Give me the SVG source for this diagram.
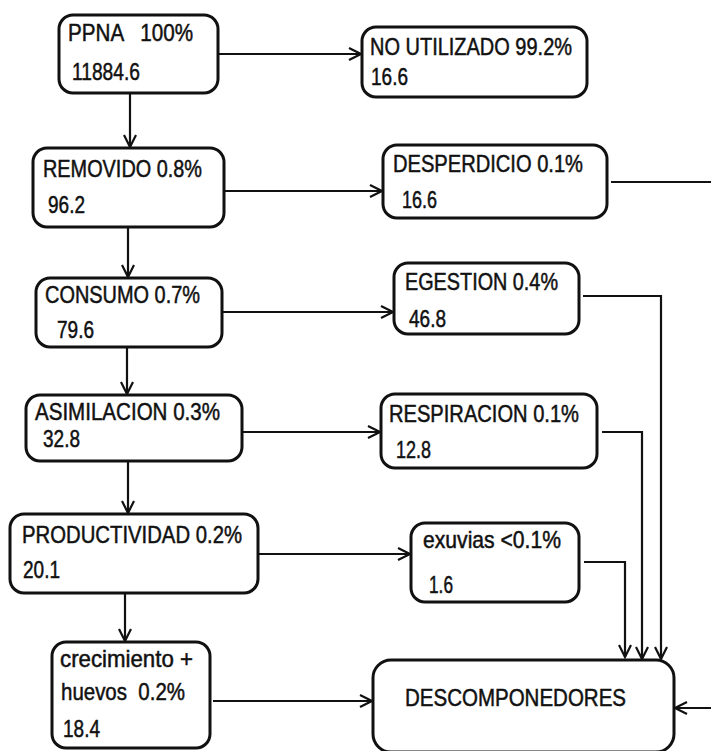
<svg xmlns="http://www.w3.org/2000/svg" width="711" height="751" viewBox="0 0 711 751">
  <style>
    .box { fill: #ffffff; stroke: #111111; stroke-width: 3; }
    .lbl { font-family: "Liberation Sans", "DejaVu Sans", sans-serif; font-size: 24px; fill: #111111; stroke: #111111; stroke-width: 0.5; white-space: pre; }
    .wire { fill: none; stroke: #111111; stroke-width: 2.2; }
    .arrow { marker-end: url(#chev); }
  </style>
  <defs>
    <marker id="chev" viewBox="0 0 13 12" refX="12" refY="6" markerWidth="13" markerHeight="12" markerUnits="userSpaceOnUse" orient="auto" overflow="visible">
      <path d="M0,0 L12,6 L0,12" fill="none" stroke="#111111" stroke-width="2.2"/>
    </marker>
  </defs>
  <rect width="711" height="751" fill="#ffffff"/>

  <!-- flows between compartments -->
  <g id="connectors">
    <path class="wire arrow" d="M218,54 H361"/>
    <path class="wire arrow" d="M130,93 V147"/>
    <path class="wire arrow" d="M224,191 H382"/>
    <path class="wire arrow" d="M128,227 V277"/>
    <path class="wire arrow" d="M222,312 H393"/>
    <path class="wire arrow" d="M127,347 V394"/>
    <path class="wire arrow" d="M242,432 H380"/>
    <path class="wire arrow" d="M128,461 V513"/>
    <path class="wire arrow" d="M258,554 H410"/>
    <path class="wire arrow" d="M125,593 V641"/>
    <path class="wire arrow" d="M213,701 H372"/>
    <path class="wire arrow" d="M611,182 H713 V708 H675"/>
    <path class="wire arrow" d="M583,296 H661 V659"/>
    <path class="wire arrow" d="M602,432 H642 V659"/>
    <path class="wire arrow" d="M584,562 H625 V657"/>
  </g>

  <g id="ppna">
    <rect class="box" x="59" y="15" width="159" height="78" rx="14"/>
    <text class="lbl" x="68" y="41" textLength="125" lengthAdjust="spacingAndGlyphs">PPNA   100%</text>
    <text class="lbl" x="72" y="80" textLength="68" lengthAdjust="spacingAndGlyphs">11884.6</text>
  </g>

  <g id="no-utilizado">
    <rect class="box" x="362" y="27" width="225" height="70" rx="14"/>
    <text class="lbl" x="370" y="55" textLength="202" lengthAdjust="spacingAndGlyphs">NO UTILIZADO 99.2%</text>
    <text class="lbl" x="371" y="85" textLength="37" lengthAdjust="spacingAndGlyphs">16.6</text>
  </g>

  <g id="removido">
    <rect class="box" x="33" y="148" width="191" height="79" rx="14"/>
    <text class="lbl" x="43" y="177" textLength="159" lengthAdjust="spacingAndGlyphs">REMOVIDO 0.8%</text>
    <text class="lbl" x="48" y="213" textLength="37" lengthAdjust="spacingAndGlyphs">96.2</text>
  </g>

  <g id="desperdicio">
    <rect class="box" x="383" y="145" width="224" height="73" rx="14"/>
    <text class="lbl" x="393" y="172" textLength="190" lengthAdjust="spacingAndGlyphs">DESPERDICIO 0.1%</text>
    <text class="lbl" x="402" y="208" textLength="35" lengthAdjust="spacingAndGlyphs">16.6</text>
  </g>

  <g id="consumo">
    <rect class="box" x="36" y="278" width="186" height="69" rx="14"/>
    <text class="lbl" x="45" y="303" textLength="155" lengthAdjust="spacingAndGlyphs">CONSUMO 0.7%</text>
    <text class="lbl" x="57" y="338" textLength="37" lengthAdjust="spacingAndGlyphs">79.6</text>
  </g>

  <g id="egestion">
    <rect class="box" x="394" y="263" width="185" height="71" rx="14"/>
    <text class="lbl" x="405" y="290" textLength="153" lengthAdjust="spacingAndGlyphs">EGESTION 0.4%</text>
    <text class="lbl" x="409" y="327" textLength="37" lengthAdjust="spacingAndGlyphs">46.8</text>
  </g>

  <g id="asimilacion">
    <rect class="box" x="26" y="395" width="216" height="66" rx="14"/>
    <text class="lbl" x="35" y="420" textLength="185" lengthAdjust="spacingAndGlyphs">ASIMILACION 0.3%</text>
    <text class="lbl" x="43" y="447" textLength="37" lengthAdjust="spacingAndGlyphs">32.8</text>
  </g>

  <g id="respiracion">
    <rect class="box" x="381" y="394" width="216" height="74" rx="14"/>
    <text class="lbl" x="389" y="422" textLength="190" lengthAdjust="spacingAndGlyphs">RESPIRACION 0.1%</text>
    <text class="lbl" x="396" y="458" textLength="35" lengthAdjust="spacingAndGlyphs">12.8</text>
  </g>

  <g id="productividad">
    <rect class="box" x="10" y="514" width="248" height="79" rx="14"/>
    <text class="lbl" x="22" y="543" textLength="220" lengthAdjust="spacingAndGlyphs">PRODUCTIVIDAD 0.2%</text>
    <text class="lbl" x="23" y="578" textLength="37" lengthAdjust="spacingAndGlyphs">20.1</text>
  </g>

  <g id="exuvias">
    <rect class="box" x="411" y="523" width="168" height="79" rx="14"/>
    <text class="lbl" x="423" y="548" textLength="138" lengthAdjust="spacingAndGlyphs">exuvias &lt;0.1%</text>
    <text class="lbl" x="429" y="593" textLength="24" lengthAdjust="spacingAndGlyphs">1.6</text>
  </g>

  <g id="crecimiento">
    <rect class="box" x="52" y="642" width="158" height="106" rx="14"/>
    <text class="lbl" x="60" y="667" textLength="133" lengthAdjust="spacingAndGlyphs">crecimiento +</text>
    <text class="lbl" x="61" y="700" textLength="124" lengthAdjust="spacingAndGlyphs">huevos  0.2%</text>
    <text class="lbl" x="63" y="737" textLength="37" lengthAdjust="spacingAndGlyphs">18.4</text>
  </g>

  <g id="descomponedores">
    <rect class="box" x="373" y="660" width="301" height="92" rx="18"/>
    <text class="lbl" x="405" y="706" textLength="221" lengthAdjust="spacingAndGlyphs">DESCOMPONEDORES</text>
  </g>
</svg>
